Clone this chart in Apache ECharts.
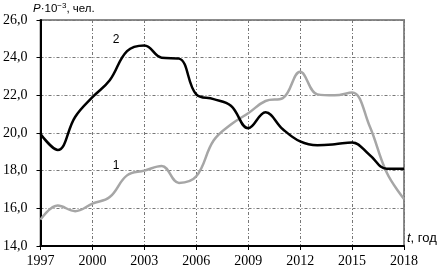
<!DOCTYPE html>
<html><head><meta charset="utf-8">
<script src="https://cdn.jsdelivr.net/npm/echarts@6/dist/echarts.min.js"></script>
<style>html,body{margin:0;padding:0;background:#fff}#c{width:442px;height:269px}</style>
</head><body><div id="c"></div>
<script>
var years = [1997,1998,1999,2000,2001,2002,2003,2004,2005,2006,2007,2008,2009,2010,2011,2012,2013,2014,2015,2016,2017,2018];
var series1 = [15.4,16.15,15.85,16.25,16.6,17.75,18.0,18.25,17.35,17.7,19.6,20.45,21.05,21.7,21.85,23.25,22.05,22.0,22.15,20.4,17.9,16.5];
var series2 = [19.95,19.1,20.85,21.9,22.8,24.35,24.65,24.0,23.95,22.05,21.8,21.45,20.25,21.1,20.2,19.55,19.35,19.4,19.5,18.85,18.1,18.1];
var xTicks = ['1997','2000','2003','2006','2009','2012','2015','2018'];
var yTicks = ['14,0','16,0','18,0','20,0','22,0','24,0','26,0'];
var base = years[0];
function pairs(v){return years.map(function(y,i){return [y-base, v[i]];});}
var chart = echarts.init(document.getElementById('c'));
var serif = '"Liberation Serif", serif';
var sans = '"Liberation Sans", sans-serif';
chart.setOption({
  animation:false,
  grid:{left:39,right:38,top:20,bottom:23,show:true,borderColor:'#8c8c8c',borderWidth:2},
  xAxis:{type:'value',min:0,max:21,interval:3,
    axisLine:{show:true,onZero:false,lineStyle:{color:'#000',width:2}},
    axisTick:{show:true,length:4,lineStyle:{color:'#000'}},
    axisLabel:{color:'#000',fontFamily:serif,fontSize:14,margin:8,
      formatter:function(v){return xTicks[Math.round(v/3)];}},
    splitLine:{show:true,lineStyle:{color:'#777',type:[3,2,1,2],width:1}}},
  yAxis:{type:'value',min:14,max:26,interval:2,
    axisLine:{show:true,lineStyle:{color:'#000',width:2}},
    axisTick:{show:true,length:4,lineStyle:{color:'#000'}},
    axisLabel:{color:'#000',fontFamily:serif,fontSize:14,margin:13,
      formatter:function(v){return yTicks[Math.round((v-14)/2)];}},
    splitLine:{show:true,lineStyle:{color:'#777',type:[3,2,1,2],width:1}}},
  series:[
    {type:'line',data:pairs(series1),smooth:0.4,symbol:'none',
     lineStyle:{color:'#a6a6a6',width:2.5},
     markPoint:{symbol:'circle',symbolSize:0,silent:true,
       label:{show:true,formatter:'1',color:'#000',fontFamily:sans,fontSize:12,position:'inside'},
       data:[{coord:[2001.36-base,18.25]}]}},
    {type:'line',data:pairs(series2),smooth:0.4,symbol:'none',
     lineStyle:{color:'#000',width:2.5},
     markPoint:{symbol:'circle',symbolSize:0,silent:true,
       label:{show:true,formatter:'2',color:'#000',fontFamily:sans,fontSize:12,position:'inside'},
       data:[{coord:[2001.36-base,24.95]}]}}
  ],
  graphic:[
    {type:'text',left:33,top:2,style:{
      text:'{i|P}·10{s|−3}, чел.',fontFamily:sans,fontSize:11.5,fill:'#000',
      rich:{i:{fontStyle:'italic',fontFamily:sans,fontSize:11.5},
            s:{fontSize:8,fontFamily:sans,verticalAlign:'top',padding:[0,0,5,0]}}}},
    {type:'text',left:407,top:232,style:{
      text:'{i|t}, год',fontFamily:sans,fontSize:13,fill:'#000',
      rich:{i:{fontStyle:'italic',fontFamily:sans,fontSize:13}}}}
  ]
});
</script></body></html>
